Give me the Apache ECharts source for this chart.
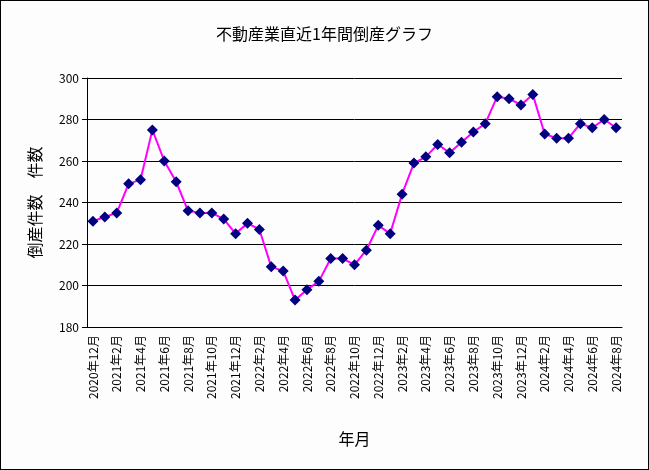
<!DOCTYPE html>
<html><head><meta charset="utf-8">
<script src="https://cdn.jsdelivr.net/npm/echarts@6/dist/echarts.min.js"></script>
<style>html,body{margin:0;padding:0;background:#fff}#c{width:647px;height:468px;border:1px solid #000;background:#fdfdfd}</style>
</head><body><div id="c"></div>
<script>
const categories=[];
(function(){let y=2020,m=12;for(let i=0;i<45;i++){categories.push(y+'年'+m+'月');m++;if(m>12){m=1;y++;}}})();
const values=[231,233,235,249,251,275,260,250,236,235,235,232,225,230,227,209,207,193,198,202,213,213,210,217,229,225,244,259,262,268,264,269,274,278,291,290,287,292,273,271,271,278,276,280,276];
const chart=echarts.init(document.getElementById('c'));
const font='"Noto Sans CJK JP", sans-serif';
chart.setOption({
  backgroundColor:'#fdfdfd',
  animation:false,
  title:{text:'不動産業直近1年間倒産グラフ',left:'center',top:20,textStyle:{fontSize:16,fontWeight:'normal',color:'#000',fontFamily:font}},
  grid:{left:86,right:26,top:77,bottom:142},
  xAxis:{type:'category',data:categories,boundaryGap:true,name:'年月',nameLocation:'middle',nameGap:104,
    nameTextStyle:{fontSize:16,color:'#000',fontFamily:font},
    axisLine:{lineStyle:{color:'#000'}},axisTick:{interval:0,lineStyle:{color:'#000'}},
    axisLabel:{interval:1,rotate:90,color:'#000',fontSize:12,fontFamily:font}},
  yAxis:{type:'value',min:180,max:300,interval:20,name:'倒産件数　件数',nameLocation:'middle',nameGap:44,
    nameTextStyle:{fontSize:16,color:'#000',fontFamily:font},
    axisLine:{show:true,lineStyle:{color:'#000'}},axisTick:{show:true,lineStyle:{color:'#000'}},
    axisLabel:{color:'#000',fontSize:12,fontFamily:font},
    splitLine:{lineStyle:{color:'#000'}}},
  series:[{type:'line',data:values,symbol:'diamond',symbolSize:11,showAllSymbol:true,
    lineStyle:{color:'#ff00ff',width:2},itemStyle:{color:'#000080'}}]
});
</script></body></html>
